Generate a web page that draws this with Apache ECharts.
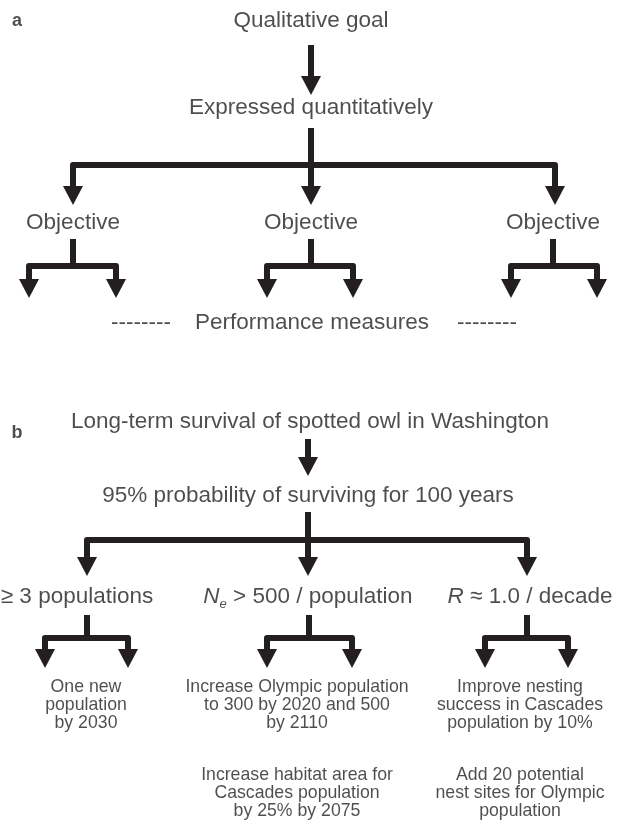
<!DOCTYPE html>
<html>
<head>
	<meta charset="utf-8">
	<title>Goals, objectives and performance measures</title>
	<script src="https://cdn.jsdelivr.net/npm/echarts@6/dist/echarts.min.js"></script>
<style type="text/css">
html, body {
	margin: 0;
	padding: 0;
	background: #fff;
}
#chart {
	width: 618px;
	height: 822px;
}
</style>
</head>
<body>
	<div id="chart"></div>
<script type="text/javascript">
	// texts, panel a
	var goalA = 'Qualitative goal';
	var quantA = 'Expressed quantitatively';
	var objectivesA = ['Objective', 'Objective', 'Objective'];
	var measuresA = ['--------', 'Performance measures', '--------'];

	// texts, panel b
	var goalB = 'Long-term survival of spotted owl in Washington';
	var quantB = '95% probability of surviving for 100 years';
	var objectivesB = ['≥ 3 populations', '{i|N}{sub|e} > 500 / population', '{i|R} ≈ 1.0 / decade'];
	var measuresB1 = [
		'One new\npopulation\nby 2030',
		'Increase Olympic population\nto 300 by 2020 and 500\nby 2110',
		'Improve nesting\nsuccess in Cascades\npopulation by 10%'
	];
	var measuresB2 = [
		'',
		'Increase habitat area for\nCascades population\nby 25% by 2075',
		'Add 20 potential\nnest sites for Olympic\npopulation'
	];
	var panels = ['a', 'b'];

	// layout, in units of the hidden axes (0-618 across, 0-822 down)
	var colA = [73, 311, 553];
	var colB = [87, 308, 527];
	var measuresAX = [141, 312, 487];
	var objB_X = [77, 308, 530];
	var leafX = [86, 297, 520];

	// arrows: stem x, stem top, bar y, arrow tips, branch xs
	var forks = [
		{x: 311, top: 45, bar: 70, tip: 95, br: [311]},
		{x: 311, top: 128, bar: 165, tip: 205, br: [colA[0], colA[1], colA[2] + 2]},
		{x: 73, top: 239, bar: 266, tip: 298, br: [29, 116]},
		{x: 311, top: 239, bar: 266, tip: 298, br: [267, 353]},
		{x: 553, top: 239, bar: 266, tip: 298, br: [511, 597]},

		{x: 308, top: 439, bar: 455, tip: 476, br: [308]},
		{x: 308, top: 512, bar: 540, tip: 576, br: [colB[0], colB[1], colB[2]]},
		{x: 87, top: 615, bar: 638, tip: 668, br: [45, 128]},
		{x: 309, top: 615, bar: 638, tip: 668, br: [267, 352]},
		{x: 527, top: 615, bar: 638, tip: 668, br: [485, 568]}
	];

	var ink = '#231f20';
	var font = '"Liberation Sans", Arial, sans-serif';

	var Chart = echarts.init(document.getElementById('chart'));

	function renderFork(params, api) {
		var f = forks[params.dataIndex];
		var head = 19, half = 10;
		var lineStyle = {stroke: ink, lineWidth: 6, fill: null, lineJoin: 'round'};
		var kids = [];
		var lo = Math.min.apply(null, f.br);
		var hi = Math.max.apply(null, f.br);
		var end = f.tip - head + 1;
		function pt(x, y) { return api.coord([x, y]); }

		if (f.br.length === 1) {
			kids.push({type: 'polyline', shape: {points: [pt(f.x, f.top), pt(f.x, end)]}, style: lineStyle});
		} else {
			kids.push({type: 'polyline', shape: {points: [pt(f.x, f.top), pt(f.x, f.bar)]}, style: lineStyle});
			kids.push({type: 'polyline', shape: {points: [pt(lo, end), pt(lo, f.bar), pt(hi, f.bar), pt(hi, end)]}, style: lineStyle});
			for (var i = 0; i < f.br.length; i++) {
				if (f.br[i] !== lo && f.br[i] !== hi) {
					kids.push({type: 'polyline', shape: {points: [pt(f.br[i], f.bar), pt(f.br[i], end)]}, style: lineStyle});
				}
			}
		}
		for (var j = 0; j < f.br.length; j++) {
			var b = f.br[j];
			kids.push({
				type: 'polygon',
				shape: {points: [pt(b - half, f.tip - head), pt(b + half, f.tip - head), pt(b, f.tip)]},
				style: {fill: ink}
			});
		}
		return {type: 'group', children: kids};
	}

	function textSeries(items, size, lineHeight, weight) {
		return {
			type: 'scatter',
			symbolSize: 1,
			itemStyle: {color: 'transparent'},
			silent: true,
			data: items.map(function (t) {
				return {value: [t[0], t[1]], name: t[2]};
			}),
			label: {
				show: true,
				position: 'inside',
				formatter: function (p) { return p.name; },
				color: ink,
				fontFamily: font,
				fontSize: size,
				fontWeight: weight || 'normal',
				lineHeight: lineHeight,
				align: 'center',
				verticalAlign: 'middle',
				rich: {
					i: {fontStyle: 'italic', fontSize: size, color: ink, fontFamily: font},
					sub: {fontStyle: 'italic', fontSize: 13, color: ink, fontFamily: font, padding: [15, 0, 0, 0]}
				}
			}
		};
	}

	var bigTexts = [
		[311, 21, goalA],
		[311, 108, quantA],
		[310, 422, goalB],
		[308, 496, quantB]
	];
	for (var i = 0; i < 3; i++) {
		bigTexts.push([colA[i], 223, objectivesA[i]]);
		bigTexts.push([measuresAX[i], 323, measuresA[i]]);
		bigTexts.push([objB_X[i], 597, objectivesB[i]]);
	}

	var smallTexts = [];
	for (var k = 0; k < 3; k++) {
		smallTexts.push([leafX[k], 705, measuresB1[k]]);
		if (measuresB2[k]) smallTexts.push([leafX[k], 793, measuresB2[k]]);
	}

	var letterTexts = [
		[17, 21, panels[0]],
		[17, 433, panels[1]]
	];

	var option = {
		animation: false,
		backgroundColor: '#fff',
		grid: {left: 0, right: 0, top: 0, bottom: 0},
		xAxis: {type: 'value', min: 0, max: 618, show: false},
		yAxis: {type: 'value', min: 0, max: 822, inverse: true, show: false},
		series: [
			{
				type: 'custom',
				silent: true,
				clip: false,
				renderItem: renderFork,
				data: forks.map(function (f) { return [f.x, f.bar]; })
			},
			textSeries(bigTexts, 22.5, 26),
			textSeries(smallTexts, 17.7, 18),
			textSeries(letterTexts, 18, 20, 'bold')
		]
	};
	Chart.setOption(option);
</script>
</body>
</html>
